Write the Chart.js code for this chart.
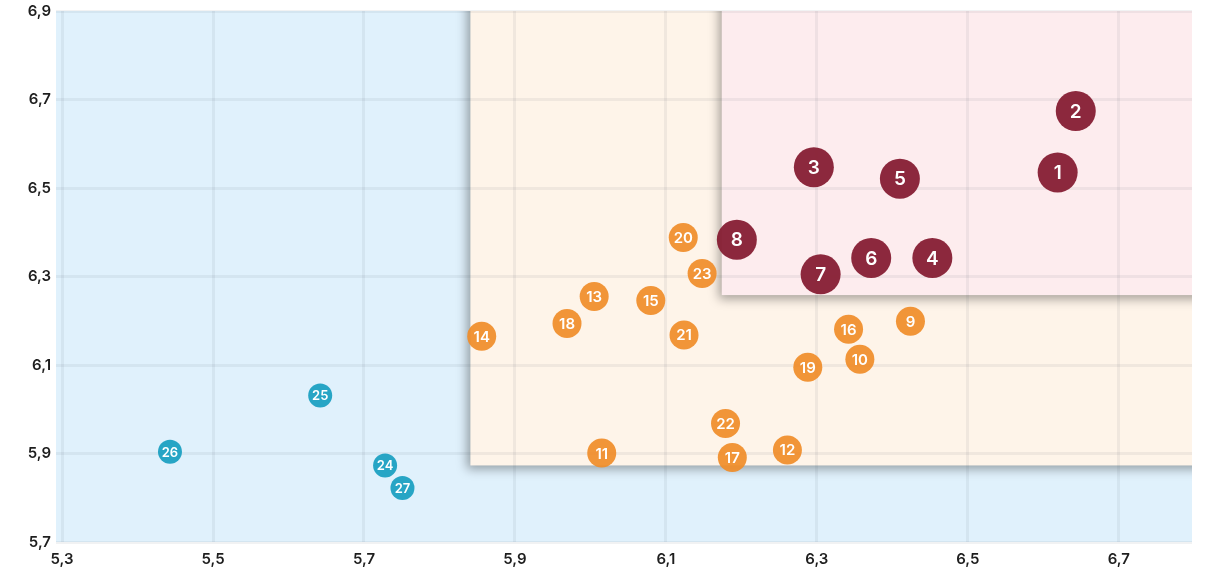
<!DOCTYPE html>
<html>
<head>
<meta charset="utf-8">
<script src="https://cdn.jsdelivr.net/npm/chart.js@4.4.1/dist/chart.umd.min.js"></script>
<style>
  html, body { margin: 0; padding: 0; background: #fff; }
  #wrap { width: 1207px; height: 573px; }
</style>
</head>
<body>
<div id="wrap"><canvas id="grafico" width="1207" height="573"></canvas></div>
<script>
// ticks
const xTicks = [5.3, 5.5, 5.7, 5.9, 6.1, 6.3, 6.5, 6.7];
const yTicks = [5.7, 5.9, 6.1, 6.3, 6.5, 6.7, 6.9];

// grupo alto (rojo)
const altoLabels = ['1', '2', '3', '4', '5', '6', '7', '8'];
const altoX = [6.619, 6.643, 6.296, 6.453, 6.41, 6.372, 6.305, 6.194];
const altoY = [6.535, 6.674, 6.547, 6.342, 6.521, 6.342, 6.305, 6.383];

// grupo medio (naranja)
const medioLabels = ['9', '10', '11', '12', '13', '14', '15', '16', '17', '18', '19', '20', '21', '22', '23'];
const medioX = [6.424, 6.357, 6.015, 6.261, 6.005, 5.856, 6.08, 6.342, 6.188, 5.969, 6.288, 6.123, 6.124, 6.179, 6.148];
const medioY = [6.199, 6.113, 5.901, 5.908, 6.255, 6.165, 6.246, 6.181, 5.891, 6.194, 6.095, 6.388, 6.168, 5.968, 6.307];

// grupo bajo (azul)
const bajoLabels = ['24', '25', '26', '27'];
const bajoX = [5.728, 5.642, 5.443, 5.751];
const bajoY = [5.873, 6.031, 5.904, 5.822];

// zonas de fondo [xmin, ymin] hasta el borde superior derecho
const zonaMedia = [5.841, 5.873];
const zonaAlta = [6.174, 6.258];

const puntos = (xs, ys, labels) => xs.map((x, i) => ({ x: x, y: ys[i], label: labels[i] }));

const fondoPlugin = {
  id: 'fondo',
  beforeDraw(chart) {
    const { ctx, chartArea: a, scales: { x, y } } = chart;
    ctx.save();
    ctx.beginPath();
    ctx.rect(a.left, a.top, a.right - a.left, a.bottom - a.top);
    ctx.clip();
    ctx.fillStyle = '#e0f1fc';
    ctx.fillRect(a.left, a.top, a.right - a.left, a.bottom - a.top);

    const zonas = [[zonaMedia, '#fef4e9'], [zonaAlta, '#fdecee']];
    zonas.forEach(([z, color]) => {
      const l = x.getPixelForValue(z[0]);
      const b = y.getPixelForValue(z[1]);
      ctx.save();
      ctx.shadowColor = 'rgba(0,0,0,0.35)';
      ctx.shadowBlur = 10;
      ctx.shadowOffsetX = -3;
      ctx.shadowOffsetY = 4;
      ctx.fillStyle = color;
      ctx.fillRect(l, a.top - 20, a.right - l + 20, b - a.top + 20);
      ctx.restore();
    });
    ctx.restore();
  }
};

const etiquetasPlugin = {
  id: 'etiquetas',
  afterDatasetsDraw(chart) {
    const { ctx } = chart;
    const tamanos = [19, 15, 13];
    ctx.save();
    ctx.fillStyle = '#ffffff';
    ctx.textAlign = 'center';
    ctx.textBaseline = 'middle';
    chart.data.datasets.forEach((ds, i) => {
      ctx.font = '600 ' + tamanos[i] + 'px Inter';
      chart.getDatasetMeta(i).data.forEach((el, j) => {
        ctx.fillText(ds.data[j].label, el.x, el.y + 1);
      });
    });
    ctx.restore();
  }
};

const ctx = document.getElementById('grafico').getContext('2d');
const grafico = new Chart(ctx, {
  type: 'scatter',
  data: {
    datasets: [
      {
        data: puntos(altoX, altoY, altoLabels),
        backgroundColor: 'rgba(134,30,51,0.95)',
        borderWidth: 0,
        pointRadius: 20,
        pointHoverRadius: 20
      },
      {
        data: puntos(medioX, medioY, medioLabels),
        backgroundColor: 'rgba(240,140,40,0.92)',
        borderWidth: 0,
        pointRadius: 14.5,
        pointHoverRadius: 14.5
      },
      {
        data: puntos(bajoX, bajoY, bajoLabels),
        backgroundColor: 'rgba(28,160,194,0.95)',
        borderWidth: 0,
        pointRadius: 12,
        pointHoverRadius: 12
      }
    ]
  },
  options: {
    responsive: false,
    animation: false,
    layout: { autoPadding: false, padding: { top: 11, right: 15, left: 0, bottom: 0 } },
    plugins: {
      legend: { display: false },
      tooltip: { enabled: false }
    },
    scales: {
      x: {
        type: 'linear',
        min: 5.292,
        max: 6.797,
        afterBuildTicks: (axis) => { axis.ticks = xTicks.map(v => ({ value: v })); },
        afterFit: (axis) => {
          axis.height = 31;
          axis.paddingLeft = 0;
          axis.paddingRight = 0;
        },
        border: { display: false },
        grid: { color: 'rgba(60,70,90,0.07)', lineWidth: 3, drawTicks: false },
        ticks: {
          padding: 8,
          color: '#1e1e1e',
          font: { family: 'Inter', size: 15, weight: '600' },
          callback: (v) => v.toFixed(1).replace('.', ',')
        }
      },
      y: {
        min: 5.7,
        max: 6.9,
        afterBuildTicks: (axis) => { axis.ticks = yTicks.map(v => ({ value: v })); },
        afterFit: (axis) => {
          axis.width = 56;
          axis.paddingTop = 0;
          axis.paddingBottom = 0;
        },
        border: { display: false },
        grid: { color: 'rgba(60,70,90,0.07)', lineWidth: 3, drawTicks: false },
        ticks: {
          padding: 5,
          color: '#1e1e1e',
          font: { family: 'Inter', size: 15, weight: '600' },
          callback: (v) => v.toFixed(1).replace('.', ',')
        }
      }
    }
  },
  plugins: [fondoPlugin, etiquetasPlugin]
});
</script>
</body>
</html>
